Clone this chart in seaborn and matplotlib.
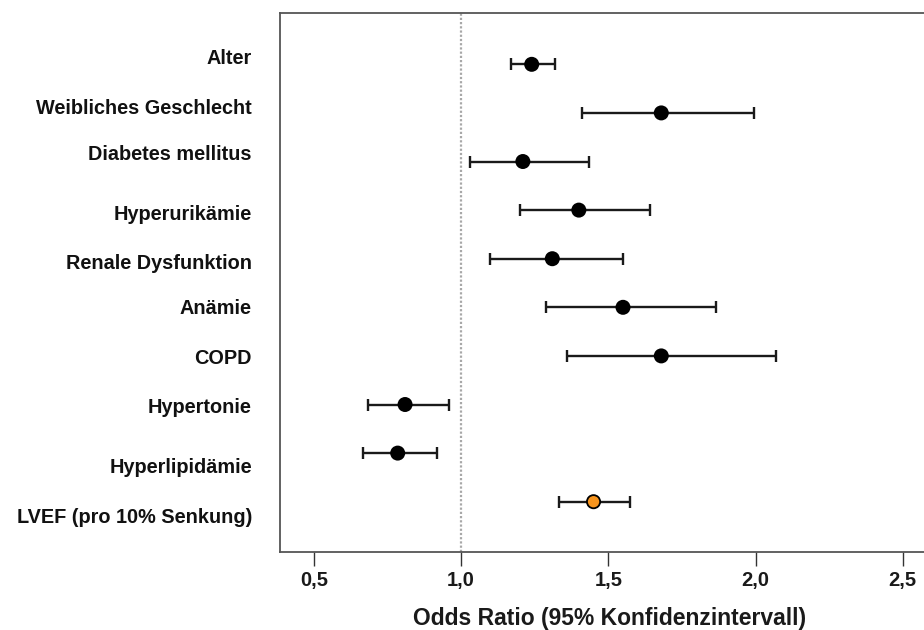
import numpy as np
import pandas as pd
import matplotlib
matplotlib.use("Agg")
import matplotlib.pyplot as plt
import matplotlib.transforms as mtransforms
import seaborn as sns

# Risk factors and their odds ratios with 95% confidence limits
factors = [
    "Alter",
    "Weibliches Geschlecht",
    "Diabetes mellitus",
    "Hyperurikämie",
    "Renale Dysfunktion",
    "Anämie",
    "COPD",
    "Hypertonie",
    "Hyperlipidämie",
    "LVEF (pro 10% Senkung)",
]
odds_ratio = [1.24, 1.68, 1.21, 1.40, 1.31, 1.55, 1.68, 0.81, 0.785, 1.45]
ci_lower = [1.17, 1.41, 1.03, 1.20, 1.10, 1.29, 1.36, 0.685, 0.668, 1.333]
ci_upper = [1.32, 1.995, 1.435, 1.64, 1.55, 1.865, 2.07, 0.96, 0.917, 1.575]
group = ["base"] * 9 + ["highlight"]

tick_values = [0.5, 1.0, 1.5, 2.0, 2.5]
tick_labels = ["0,5", "1,0", "1,5", "2,0", "2,5"]

# small vertical nudges of the row captions (in row units)
label_nudge = [-0.115, -0.10, -0.145, 0.095, 0.095, 0.027, 0.047, 0.055, 0.295, 0.315]

df = pd.DataFrame({
    "factor": factors,
    "or": odds_ratio,
    "lo": ci_lower,
    "hi": ci_upper,
    "group": group,
})
df["row"] = np.arange(len(df))

sns.set_theme(style="white")
plt.rcParams["font.family"] = ["Liberation Sans", "DejaVu Sans"]

fig = plt.figure(figsize=(9.24, 6.3), dpi=100)
ax = fig.add_axes([280 / 924, 78 / 630, 644 / 924, 539 / 630])

# reference line at OR = 1
ax.axvline(1.0, color="#a8a8a8", lw=1.6, ls=(0, (1.0, 0.9)), zorder=1)

# confidence intervals
ax.errorbar(
    df["or"], df["row"],
    xerr=[df["or"] - df["lo"], df["hi"] - df["or"]],
    fmt="none", ecolor="#1a1a1a", elinewidth=1.7,
    capsize=4.6, capthick=1.7, zorder=2,
)

# point estimates
sns.scatterplot(
    data=df, x="or", y="row", hue="group",
    palette={"base": "#000000", "highlight": "#f7941d"},
    s=90, edgecolor="#000000", linewidth=1.3, legend=False, zorder=3, ax=ax,
)

ax.set_xlim(0.3854, 2.572)
ax.set_ylim(10.035, -1.056)
ax.set_xticks(tick_values)
ax.set_xticklabels(tick_labels, fontsize=14.5, fontweight="bold", color="#1a1a1a")
ax.set_yticks([])
ax.set_ylabel("")
ax.tick_params(axis="x", direction="out", length=10, width=1.0, color="#333333",
               pad=4, bottom=True)
ax.set_xlabel("Odds Ratio (95% Konfidenzintervall)", fontsize=16.5, fontweight="bold",
              color="#1a1a1a")
ax.xaxis.set_label_coords((610 - 280) / 644, (552 - 607) / 539)

for side in ["left", "top", "bottom"]:
    ax.spines[side].set_visible(True)
    ax.spines[side].set_color("#555555")
    ax.spines[side].set_linewidth(1.3)
ax.spines["right"].set_visible(False)

# row captions, right-aligned to the left of the frame
trans = mtransforms.blended_transform_factory(fig.transFigure, ax.transData)
for r, (name, nudge) in enumerate(zip(factors, label_nudge)):
    ax.text(252 / 924, r + nudge, name, transform=trans, ha="right", va="center",
            fontsize=14.3, fontweight="bold", color="#111111")

fig.savefig("out.png", dpi=100)
